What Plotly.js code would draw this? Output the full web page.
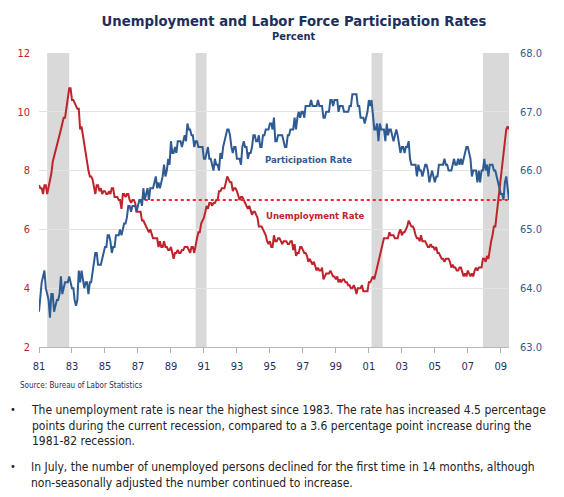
<!DOCTYPE html>
<html><head><meta charset="utf-8">
<script src="https://cdn.plot.ly/plotly-3.0.1.min.js"></script>
<style>html,body{margin:0;padding:0;background:#fff;}#chart{width:564px;height:497px;}</style>
</head><body><div id="chart"></div>
<script>
// Monthly series, January 1981 to July 2009
const startYear = 1981;
const unemploymentRate = [
  7.5,7.4,7.4,7.2,7.5,7.5,7.2,7.4,7.6,7.9,8.3,8.5,        // 1981
  8.6,8.9,9.0,9.3,9.4,9.6,9.8,9.8,10.1,10.4,10.8,10.8,   // 1982
  10.4,10.4,10.3,10.2,10.1,10.1,9.4,9.5,9.2,8.8,8.5,8.3, // 1983
  8.0,7.8,7.8,7.7,7.4,7.2,7.5,7.5,7.3,7.4,7.2,7.3,       // 1984
  7.3,7.2,7.2,7.3,7.2,7.4,7.4,7.1,7.1,7.1,7.0,7.0,       // 1985
  6.7,7.2,7.2,7.1,7.2,7.2,7.0,6.9,7.0,7.0,6.9,6.6,       // 1986
  6.6,6.6,6.6,6.3,6.3,6.2,6.1,6.0,5.9,6.0,5.8,5.7,       // 1987
  5.7,5.7,5.7,5.4,5.6,5.4,5.4,5.6,5.4,5.4,5.3,5.3,       // 1988
  5.4,5.2,5.0,5.2,5.2,5.3,5.2,5.2,5.3,5.3,5.4,5.4,       // 1989
  5.4,5.3,5.2,5.4,5.4,5.2,5.5,5.7,5.9,5.9,6.2,6.3,       // 1990
  6.4,6.6,6.8,6.7,6.9,6.9,6.8,6.9,6.9,7.0,7.0,7.3,       // 1991
  7.3,7.4,7.4,7.4,7.6,7.8,7.7,7.6,7.6,7.3,7.4,7.4,       // 1992
  7.3,7.1,7.0,7.1,7.1,7.0,6.9,6.8,6.7,6.8,6.6,6.5,       // 1993
  6.6,6.6,6.5,6.4,6.1,6.1,6.1,6.0,5.9,5.8,5.6,5.5,       // 1994
  5.6,5.4,5.4,5.8,5.6,5.6,5.7,5.7,5.6,5.5,5.6,5.6,       // 1995
  5.6,5.5,5.5,5.6,5.6,5.3,5.5,5.1,5.2,5.2,5.4,5.4,       // 1996
  5.3,5.2,5.2,5.1,4.9,5.0,4.9,4.8,4.9,4.7,4.6,4.7,       // 1997
  4.6,4.6,4.7,4.3,4.4,4.5,4.5,4.5,4.6,4.5,4.4,4.4,       // 1998
  4.3,4.4,4.2,4.3,4.2,4.3,4.3,4.2,4.2,4.1,4.1,4.0,       // 1999
  4.0,4.1,4.0,3.8,4.0,4.0,4.0,4.1,3.9,3.9,3.9,3.9,       // 2000
  4.2,4.2,4.3,4.4,4.3,4.5,4.6,4.9,5.0,5.3,5.5,5.7,       // 2001
  5.7,5.7,5.7,5.9,5.8,5.8,5.8,5.7,5.7,5.7,5.9,6.0,       // 2002
  5.8,5.9,5.9,6.0,6.1,6.3,6.2,6.1,6.1,6.0,5.8,5.7,       // 2003
  5.7,5.6,5.8,5.6,5.6,5.6,5.5,5.4,5.4,5.5,5.4,5.4,       // 2004
  5.3,5.4,5.2,5.2,5.1,5.0,5.0,4.9,5.0,5.0,5.0,4.9,       // 2005
  4.7,4.8,4.7,4.7,4.6,4.6,4.7,4.7,4.5,4.4,4.5,4.4,       // 2006
  4.6,4.5,4.4,4.5,4.4,4.6,4.7,4.6,4.7,4.7,4.7,5.0,       // 2007
  5.0,4.9,5.1,5.0,5.4,5.6,5.8,6.1,6.1,6.5,6.8,7.3,       // 2008
  7.7,8.2,8.6,8.9,9.4,9.5,9.4                            // 2009
];
const participationRate = [
  63.6,63.9,64.1,64.2,64.3,64.0,63.9,63.8,63.5,63.9,63.9,63.6, // 1981
  63.7,63.8,63.8,63.9,64.2,63.9,64.0,64.1,64.1,64.1,64.2,64.1, // 1982
  64.0,64.0,63.8,63.7,63.8,64.3,64.1,64.3,64.1,64.0,64.1,64.1, // 1983
  63.9,64.1,64.1,64.3,64.5,64.6,64.6,64.4,64.4,64.4,64.5,64.6, // 1984
  64.7,64.7,64.9,64.9,64.8,64.6,64.7,64.7,64.9,64.9,64.9,65.0, // 1985
  64.9,65.0,65.1,65.1,65.2,65.4,65.4,65.3,65.4,65.4,65.4,65.3, // 1986
  65.4,65.5,65.5,65.4,65.7,65.5,65.6,65.7,65.5,65.7,65.7,65.7, // 1987
  65.8,65.9,65.7,65.8,65.7,65.8,65.9,66.1,65.9,66.0,66.2,66.1, // 1988
  66.5,66.3,66.3,66.4,66.3,66.5,66.5,66.5,66.4,66.5,66.6,66.5, // 1989
  66.8,66.7,66.7,66.6,66.6,66.4,66.5,66.5,66.4,66.4,66.4,66.4, // 1990
  66.2,66.2,66.3,66.4,66.2,66.2,66.1,66.0,66.2,66.1,66.1,66.0, // 1991
  66.3,66.2,66.4,66.5,66.6,66.7,66.7,66.6,66.4,66.3,66.4,66.4, // 1992
  66.2,66.2,66.2,66.1,66.4,66.5,66.4,66.4,66.2,66.3,66.3,66.4, // 1993
  66.6,66.6,66.5,66.5,66.6,66.4,66.4,66.6,66.6,66.7,66.7,66.7, // 1994
  66.8,66.8,66.7,66.9,66.5,66.5,66.6,66.6,66.6,66.6,66.5,66.4, // 1995
  66.4,66.6,66.6,66.7,66.7,66.7,66.9,66.7,66.9,67.0,66.9,67.0, // 1996
  67.0,66.9,67.1,67.1,67.1,67.1,67.2,67.1,67.1,67.1,67.1,67.2, // 1997
  67.1,67.1,67.1,66.9,66.9,67.0,67.0,67.0,67.2,67.2,67.1,67.2, // 1998
  67.2,67.2,67.0,67.1,67.1,67.1,67.0,67.0,67.0,67.0,67.1,67.1, // 1999
  67.3,67.3,67.3,67.3,67.1,67.1,66.9,66.9,66.9,66.8,66.9,67.0, // 2000
  67.2,67.1,67.2,66.9,66.7,66.7,66.8,66.5,66.8,66.7,66.7,66.7, // 2001
  66.5,66.8,66.6,66.7,66.7,66.6,66.5,66.6,66.7,66.6,66.4,66.3, // 2002
  66.4,66.4,66.3,66.4,66.4,66.5,66.2,66.1,66.1,66.1,66.1,65.9, // 2003
  66.1,66.0,66.0,65.9,66.0,66.1,66.1,66.0,65.8,65.9,66.0,65.9, // 2004
  65.8,65.9,65.9,66.1,66.1,66.1,66.1,66.2,66.1,66.1,66.0,66.0, // 2005
  66.0,66.1,66.2,66.1,66.1,66.2,66.1,66.2,66.1,66.2,66.3,66.4, // 2006
  66.4,66.3,66.2,65.9,66.0,66.0,66.0,65.8,66.0,65.8,66.0,66.0, // 2007
  66.2,66.0,66.1,65.9,66.1,66.1,66.1,66.0,66.0,65.9,65.8,65.7, // 2008
  65.6,65.6,65.5,65.8,65.9,65.7,65.5                           // 2009
];
const recessions = [
  ['1981-07-01','1982-11-01'],
  ['1990-07-01','1991-03-01'],
  ['2001-03-01','2001-11-01'],
  ['2007-12-01','2009-07-01']
];
const tickYears = [1981,1983,1985,1987,1989,1991,1993,1995,1997,1999,2001,2003,2005,2007,2009];
const tickLabels = ['81','83','85','87','89','91','93','95','97','99','01','03','05','07','09'];
const leftTicks = [2,4,6,8,10,12];
const rightTicks = [63,64,65,66,67,68];
const referenceLevel = 7;
const referenceStart = '1987-06-01';

const titleText = 'Unemployment and Labor Force Participation Rates';
const subtitleText = 'Percent';
const sourceText = 'Source: Bureau of Labor Statistics';
const bullets = [
  'The unemployment rate is near the highest since 1983. The rate has increased 4.5 percentage<br>points during the current recession, compared to a 3.6 percentage point increase during the<br>1981-82 recession.',
  'In July, the number of unemployed persons declined for the first time in 14 months, although<br>non-seasonally adjusted the number continued to increase.'
];

const months = unemploymentRate.map((_, i) => {
  const y = startYear + Math.floor(i / 12);
  const m = (i % 12) + 1;
  return y + '-' + String(m).padStart(2, '0') + '-01';
});
const lastMonth = months[months.length - 1];

const RED = '#c0232b', BLUE = '#2f5b93', NAVY = '#1f2f5c';
const FONT = '"DejaVu Sans Condensed", "DejaVu Sans", sans-serif';

const traces = [
  { x: months, y: participationRate, yaxis: 'y2', type: 'scatter', mode: 'lines',
    line: { color: BLUE, width: 2 }, hoverinfo: 'skip' },
  { x: months, y: unemploymentRate, yaxis: 'y', type: 'scatter', mode: 'lines',
    line: { color: RED, width: 2 }, hoverinfo: 'skip' },
  { x: [referenceStart, lastMonth], y: [referenceLevel, referenceLevel], yaxis: 'y',
    type: 'scatter', mode: 'lines', line: { color: '#f0262b', width: 2, dash: 'dot' }, hoverinfo: 'skip' }
];

const shapes = recessions.map(r => ({
  type: 'rect', xref: 'x', yref: 'paper', x0: r[0], x1: r[1], y0: 0, y1: 1,
  fillcolor: '#d9d9d9', line: { width: 0 }, layer: 'between'
}));

const annotations = [
  { text: '<b>' + subtitleText + '</b>', xref: 'paper', yref: 'paper', x: 0.542, y: 1.056,
    xanchor: 'center', yanchor: 'middle', showarrow: false, font: { family: FONT, size: 11, color: NAVY } },
  { text: '<b>Participation Rate</b>', xref: 'paper', yref: 'y', x: 0.477, y: 8.39,
    xanchor: 'left', yanchor: 'middle', showarrow: false, font: { family: FONT, size: 9.5, color: BLUE } },
  { text: '<b>Unemployment Rate</b>', xref: 'paper', yref: 'y', x: 0.479, y: 6.47,
    xanchor: 'left', yanchor: 'middle', showarrow: false, font: { family: FONT, size: 9.5, color: RED } },
  { text: sourceText, xref: 'paper', yref: 'paper', x: -0.045, y: -0.1305,
    xanchor: 'left', yanchor: 'middle', showarrow: false, font: { family: FONT, size: 8, color: NAVY } },
  { text: '•', xref: 'paper', yref: 'paper', x: -0.056, y: -0.2123,
    xanchor: 'center', yanchor: 'middle', showarrow: false, font: { family: FONT, size: 11, color: '#222' } },
  { text: '•', xref: 'paper', yref: 'paper', x: -0.056, y: -0.4067,
    xanchor: 'center', yanchor: 'middle', showarrow: false, font: { family: FONT, size: 11, color: '#222' } },
  { text: bullets[0], xref: 'paper', yref: 'paper', x: -0.022, y: -0.182, align: 'left',
    xanchor: 'left', yanchor: 'top', showarrow: false, font: { family: FONT, size: 12, color: '#222' } },
  { text: bullets[1], xref: 'paper', yref: 'paper', x: -0.022, y: -0.376, align: 'left',
    xanchor: 'left', yanchor: 'top', showarrow: false, font: { family: FONT, size: 12, color: '#222' } }
];

const layout = {
  width: 564, height: 497,
  margin: { l: 39, r: 55, t: 53, b: 150 },
  paper_bgcolor: '#ffffff', plot_bgcolor: '#ffffff',
  showlegend: false,
  title: { text: '<b>' + titleText + '</b>', xref: 'paper', x: 0.5426, xanchor: 'center',
    yref: 'container', y: 0.958, yanchor: 'middle', font: { family: FONT, size: 14.7, color: NAVY } },
  xaxis: {
    type: 'date', range: ['1981-01-01', lastMonth],
    tickmode: 'array', tickvals: tickYears.map(y => y + '-01-01'), ticktext: tickLabels,
    ticks: 'outside', ticklen: 5, tickcolor: '#b0b0b0', tickwidth: 1, ticklabelstandoff: 4,
    showline: true, linecolor: '#b8b8b8', linewidth: 1, showgrid: false, zeroline: false,
    tickfont: { family: FONT, size: 11, color: NAVY }
  },
  yaxis: {
    range: [2, 12], tickmode: 'array', tickvals: leftTicks,
    showgrid: true, gridcolor: '#e3e3e3', gridwidth: 1, zeroline: false, showline: false,
    ticks: '', ticklabelstandoff: 8,
    tickfont: { family: FONT, size: 11, color: RED }
  },
  yaxis2: {
    overlaying: 'y', side: 'right', range: [63, 68], tickmode: 'array', tickvals: rightTicks,
    tickformat: '.1f', showgrid: false, zeroline: false, showline: false,
    ticks: '', ticklabelstandoff: 10,
    tickfont: { family: FONT, size: 11, color: BLUE }
  },
  shapes: shapes,
  annotations: annotations
};

Plotly.newPlot('chart', traces, layout, { staticPlot: true, displayModeBar: false });
</script>
</body></html>
